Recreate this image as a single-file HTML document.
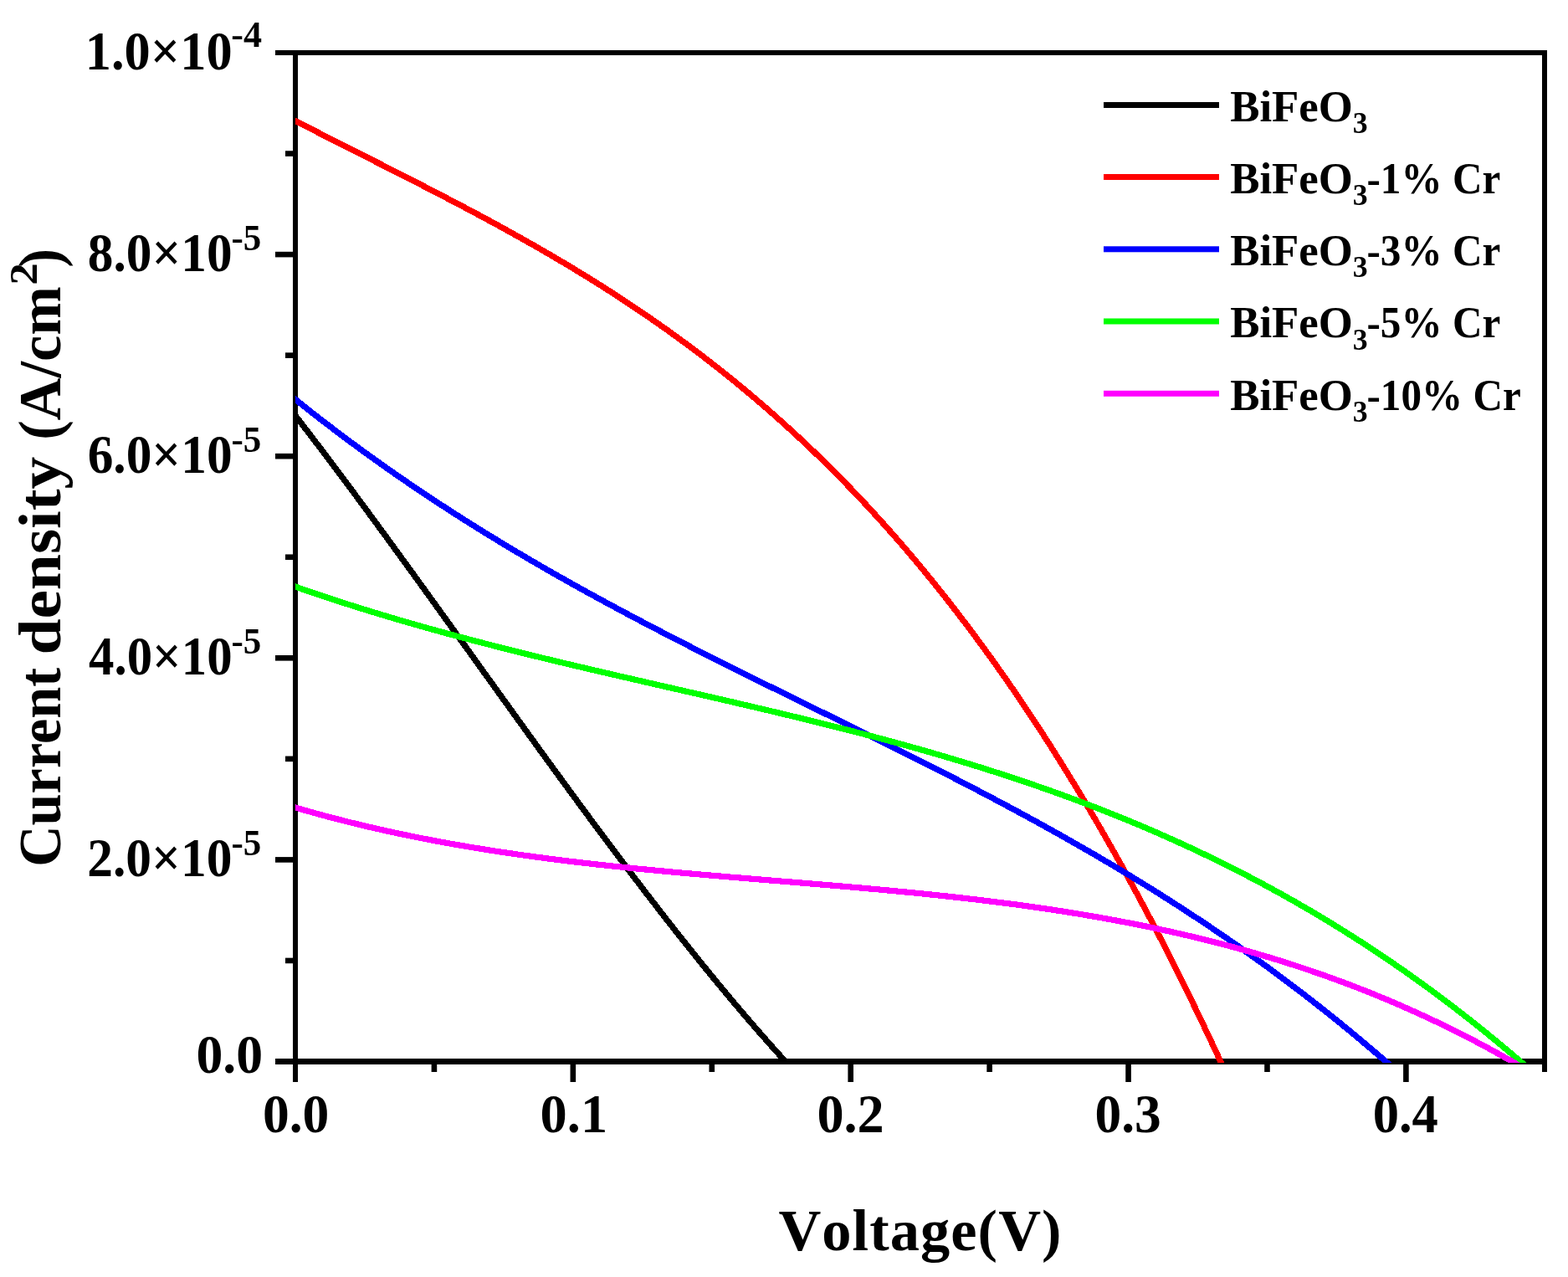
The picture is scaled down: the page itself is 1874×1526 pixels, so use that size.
<!DOCTYPE html>
<html lang="en"><head><meta charset="utf-8"><title>Current density vs Voltage</title>
<style>
html,body{margin:0;padding:0;background:#fff}
body{width:1874px;height:1526px;overflow:hidden}
svg{display:block}
text{font-family:"Liberation Serif","DejaVu Serif",serif;font-weight:bold;fill:#000;white-space:pre}
</style></head><body>
<svg width="1874" height="1526" viewBox="0 0 1874 1526">
<rect width="1874" height="1526" fill="#fff"/>
<g fill="#000"><rect x="350" y="60" width="6" height="1233"/><rect x="1843" y="60" width="6" height="1221"/><rect x="329" y="60" width="1520" height="6"/><rect x="329" y="1265" width="1520" height="7"/><rect x="515.62" y="1271" width="6.6" height="10"/><rect x="681.55" y="1271" width="6.6" height="22"/><rect x="847.48" y="1271" width="6.6" height="10"/><rect x="1013.4" y="1271" width="6.6" height="22"/><rect x="1179.33" y="1271" width="6.6" height="10"/><rect x="1345.25" y="1271" width="6.6" height="22"/><rect x="1511.18" y="1271" width="6.6" height="10"/><rect x="1677.1" y="1271" width="6.6" height="22"/><rect x="341" y="1144.65" width="10" height="6.6"/><rect x="329" y="1024.1" width="22" height="6.6"/><rect x="341" y="903.55" width="10" height="6.6"/><rect x="329" y="783" width="22" height="6.6"/><rect x="341" y="662.45" width="10" height="6.6"/><rect x="329" y="541.9" width="22" height="6.6"/><rect x="341" y="421.35" width="10" height="6.6"/><rect x="329" y="300.8" width="22" height="6.6"/><rect x="341" y="180.25" width="10" height="6.6"/></g>
<clipPath id="c"><rect x="353" y="60" width="1497" height="1210.0"/></clipPath>
<g fill="none" stroke-width="7.2" stroke-linejoin="round" shape-rendering="crispEdges" clip-path="url(#c)">
<path stroke="#000" d="M348,490.09 L353,496.56 L356,500.45 L359,504.34 L362,508.24 L365,512.15 L368,516.07 L371,519.99 L374,523.92 L377,527.86 L380,531.81 L383,535.77 L386,539.73 L389,543.7 L392,547.67 L395,551.65 L398,555.64 L401,559.64 L404,563.64 L407,567.65 L410,571.66 L413,575.68 L416,579.71 L419,583.74 L422,587.78 L425,591.82 L428,595.87 L431,599.93 L434,603.99 L437,608.05 L440,612.12 L443,616.2 L446,620.28 L449,624.37 L452,628.45 L455,632.55 L458,636.65 L461,640.75 L464,644.86 L467,648.97 L470,653.08 L473,657.2 L476,661.32 L479,665.45 L482,669.58 L485,673.71 L488,677.84 L491,681.98 L494,686.12 L497,690.27 L500,694.42 L503,698.57 L506,702.72 L509,706.87 L512,711.03 L515,715.19 L518,719.35 L521,723.51 L524,727.68 L527,731.84 L530,736.01 L533,740.18 L536,744.35 L539,748.53 L542,752.7 L545,756.87 L548,761.05 L551,765.22 L554,769.4 L557,773.58 L560,777.76 L563,781.93 L566,786.11 L569,790.29 L572,794.47 L575,798.64 L578,802.82 L581,807 L584,811.18 L587,815.35 L590,819.53 L593,823.7 L596,827.87 L599,832.05 L602,836.22 L605,840.39 L608,844.56 L611,848.72 L614,852.89 L617,857.05 L620,861.21 L623,865.37 L626,869.53 L629,873.68 L632,877.83 L635,881.98 L638,886.13 L641,890.28 L644,894.42 L647,898.56 L650,902.69 L653,906.82 L656,910.95 L659,915.08 L662,919.2 L665,923.32 L668,927.43 L671,931.54 L674,935.65 L677,939.75 L680,943.85 L683,947.95 L686,952.04 L689,956.12 L692,960.2 L695,964.28 L698,968.35 L701,972.41 L704,976.47 L707,980.53 L710,984.58 L713,988.62 L716,992.66 L719,996.69 L722,1000.72 L725,1004.74 L728,1008.75 L731,1012.76 L734,1016.77 L737,1020.76 L740,1024.75 L743,1028.73 L746,1032.71 L749,1036.68 L752,1040.64 L755,1044.59 L758,1048.54 L761,1052.48 L764,1056.41 L767,1060.34 L770,1064.25 L773,1068.16 L776,1072.06 L779,1075.96 L782,1079.84 L785,1083.72 L788,1087.59 L791,1091.45 L794,1095.3 L797,1099.14 L800,1102.97 L803,1106.8 L806,1110.61 L809,1114.42 L812,1118.21 L815,1122 L818,1125.78 L821,1129.54 L824,1133.3 L827,1137.05 L830,1140.79 L833,1144.52 L836,1148.23 L839,1151.94 L842,1155.64 L845,1159.32 L848,1163 L851,1166.66 L854,1170.31 L857,1173.96 L860,1177.59 L863,1181.21 L866,1184.81 L869,1188.41 L872,1191.99 L875,1195.57 L878,1199.13 L881,1202.68 L884,1206.21 L887,1209.74 L890,1213.25 L893,1216.75 L896,1220.24 L899,1223.71 L902,1227.17 L905,1230.62 L908,1234.06 L911,1237.48 L914,1240.89 L917,1244.28 L920,1247.66 L923,1251.03 L926,1254.39 L929,1257.73 L932,1261.05 L935,1264.37 L938,1267.66 L938.5,1268.21 L946.5,1276.98"/>
<path stroke="#f00" d="M348,141.8 L353,144.38 L356,145.93 L359,147.48 L362,149.02 L365,150.56 L368,152.1 L371,153.64 L374,155.18 L377,156.71 L380,158.24 L383,159.77 L386,161.3 L389,162.83 L392,164.36 L395,165.88 L398,167.41 L401,168.93 L404,170.45 L407,171.98 L410,173.5 L413,175.02 L416,176.54 L419,178.05 L422,179.57 L425,181.09 L428,182.61 L431,184.13 L434,185.64 L437,187.16 L440,188.68 L443,190.2 L446,191.71 L449,193.23 L452,194.75 L455,196.27 L458,197.79 L461,199.31 L464,200.83 L467,202.35 L470,203.87 L473,205.4 L476,206.92 L479,208.45 L482,209.97 L485,211.5 L488,213.03 L491,214.56 L494,216.1 L497,217.63 L500,219.17 L503,220.7 L506,222.24 L509,223.79 L512,225.33 L515,226.88 L518,228.43 L521,229.98 L524,231.53 L527,233.09 L530,234.64 L533,236.2 L536,237.77 L539,239.34 L542,240.91 L545,242.48 L548,244.05 L551,245.63 L554,247.22 L557,248.8 L560,250.39 L563,251.98 L566,253.58 L569,255.18 L572,256.78 L575,258.39 L578,260 L581,261.62 L584,263.24 L587,264.86 L590,266.49 L593,268.12 L596,269.76 L599,271.4 L602,273.05 L605,274.7 L608,276.36 L611,278.02 L614,279.68 L617,281.35 L620,283.03 L623,284.71 L626,286.4 L629,288.09 L632,289.79 L635,291.49 L638,293.2 L641,294.92 L644,296.64 L647,298.36 L650,300.1 L653,301.83 L656,303.58 L659,305.33 L662,307.09 L665,308.85 L668,310.62 L671,312.4 L674,314.18 L677,315.97 L680,317.77 L683,319.57 L686,321.39 L689,323.2 L692,325.03 L695,326.86 L698,328.7 L701,330.55 L704,332.41 L707,334.27 L710,336.14 L713,338.02 L716,339.91 L719,341.8 L722,343.7 L725,345.61 L728,347.53 L731,349.46 L734,351.39 L737,353.34 L740,355.29 L743,357.25 L746,359.22 L749,361.2 L752,363.19 L755,365.19 L758,367.19 L761,369.21 L764,371.23 L767,373.26 L770,375.31 L773,377.36 L776,379.42 L779,381.49 L782,383.57 L785,385.67 L788,387.77 L791,389.88 L794,392 L797,394.13 L800,396.27 L803,398.43 L806,400.59 L809,402.76 L812,404.95 L815,407.14 L818,409.35 L821,411.56 L824,413.79 L827,416.03 L830,418.28 L833,420.54 L836,422.81 L839,425.09 L842,427.39 L845,429.69 L848,432.01 L851,434.34 L854,436.68 L857,439.04 L860,441.4 L863,443.78 L866,446.17 L869,448.57 L872,450.98 L875,453.41 L878,455.85 L881,458.3 L884,460.77 L887,463.24 L890,465.73 L893,468.24 L896,470.75 L899,473.28 L902,475.82 L905,478.38 L908,480.95 L911,483.53 L914,486.12 L917,488.73 L920,491.36 L923,493.99 L926,496.64 L929,499.31 L932,501.99 L935,504.68 L938,507.38 L941,510.11 L944,512.84 L947,515.59 L950,518.36 L953,521.13 L956,523.93 L959,526.74 L962,529.56 L965,532.4 L968,535.25 L971,538.12 L974,541 L977,543.9 L980,546.82 L983,549.75 L986,552.69 L989,555.65 L992,558.63 L995,561.62 L998,564.63 L1001,567.66 L1004,570.7 L1007,573.75 L1010,576.83 L1013,579.92 L1016,583.02 L1019,586.15 L1022,589.28 L1025,592.44 L1028,595.61 L1031,598.8 L1034,602.01 L1037,605.23 L1040,608.47 L1043,611.73 L1046,615 L1049,618.29 L1052,621.6 L1055,624.93 L1058,628.28 L1061,631.64 L1064,635.02 L1067,638.42 L1070,641.83 L1073,645.27 L1076,648.72 L1079,652.19 L1082,655.68 L1085,659.18 L1088,662.71 L1091,666.25 L1094,669.81 L1097,673.4 L1100,677 L1103,680.61 L1106,684.25 L1109,687.91 L1112,691.58 L1115,695.28 L1118,698.99 L1121,702.73 L1124,706.48 L1127,710.26 L1130,714.05 L1133,717.86 L1136,721.69 L1139,725.55 L1142,729.42 L1145,733.31 L1148,737.22 L1151,741.16 L1154,745.11 L1157,749.08 L1160,753.08 L1163,757.09 L1166,761.13 L1169,765.18 L1172,769.26 L1175,773.36 L1178,777.48 L1181,781.62 L1184,785.78 L1187,789.96 L1190,794.17 L1193,798.39 L1196,802.64 L1199,806.91 L1202,811.2 L1205,815.51 L1208,819.85 L1211,824.2 L1214,828.58 L1217,832.98 L1220,837.41 L1223,841.85 L1226,846.32 L1229,850.81 L1232,855.32 L1235,859.86 L1238,864.42 L1241,869 L1244,873.61 L1247,878.23 L1250,882.88 L1253,887.56 L1256,892.26 L1259,896.98 L1262,901.72 L1265,906.49 L1268,911.28 L1271,916.1 L1274,920.94 L1277,925.8 L1280,930.69 L1283,935.6 L1286,940.53 L1289,945.49 L1292,950.48 L1295,955.49 L1298,960.52 L1301,965.58 L1304,970.66 L1307,975.77 L1310,980.9 L1313,986.06 L1316,991.24 L1319,996.45 L1322,1001.68 L1325,1006.94 L1328,1012.22 L1331,1017.53 L1334,1022.87 L1337,1028.23 L1340,1033.61 L1343,1039.03 L1346,1044.46 L1349,1049.93 L1352,1055.42 L1355,1060.94 L1358,1066.48 L1361,1072.05 L1364,1077.64 L1367,1083.27 L1370,1088.91 L1373,1094.59 L1376,1100.29 L1379,1106.02 L1382,1111.78 L1385,1117.56 L1388,1123.37 L1391,1129.21 L1394,1135.07 L1397,1140.97 L1400,1146.89 L1403,1152.84 L1406,1158.81 L1409,1164.81 L1412,1170.85 L1415,1176.9 L1418,1182.99 L1421,1189.11 L1424,1195.25 L1427,1201.42 L1430,1207.62 L1433,1213.85 L1436,1220.11 L1439,1226.39 L1442,1232.71 L1445,1239.05 L1448,1245.43 L1451,1251.83 L1454,1258.26 L1457,1264.72 L1458.5,1267.96 L1466.5,1285.24"/>
<path stroke="#00f" d="M348,473.24 L353,477.25 L356,479.65 L359,482.05 L362,484.44 L365,486.81 L368,489.18 L371,491.54 L374,493.9 L377,496.24 L380,498.57 L383,500.9 L386,503.22 L389,505.52 L392,507.82 L395,510.11 L398,512.4 L401,514.67 L404,516.94 L407,519.2 L410,521.45 L413,523.69 L416,525.92 L419,528.15 L422,530.36 L425,532.57 L428,534.77 L431,536.97 L434,539.15 L437,541.33 L440,543.5 L443,545.66 L446,547.81 L449,549.96 L452,552.1 L455,554.23 L458,556.35 L461,558.47 L464,560.58 L467,562.68 L470,564.77 L473,566.86 L476,568.93 L479,571.01 L482,573.07 L485,575.13 L488,577.18 L491,579.22 L494,581.26 L497,583.29 L500,585.31 L503,587.32 L506,589.33 L509,591.33 L512,593.33 L515,595.32 L518,597.3 L521,599.27 L524,601.24 L527,603.2 L530,605.16 L533,607.1 L536,609.05 L539,610.98 L542,612.91 L545,614.83 L548,616.75 L551,618.66 L554,620.57 L557,622.46 L560,624.36 L563,626.24 L566,628.12 L569,630 L572,631.87 L575,633.73 L578,635.59 L581,637.44 L584,639.28 L587,641.12 L590,642.96 L593,644.78 L596,646.61 L599,648.42 L602,650.24 L605,652.04 L608,653.84 L611,655.64 L614,657.43 L617,659.21 L620,660.99 L623,662.77 L626,664.54 L629,666.3 L632,668.06 L635,669.82 L638,671.57 L641,673.31 L644,675.05 L647,676.79 L650,678.52 L653,680.24 L656,681.97 L659,683.68 L662,685.39 L665,687.1 L668,688.8 L671,690.5 L674,692.2 L677,693.89 L680,695.57 L683,697.25 L686,698.93 L689,700.6 L692,702.27 L695,703.93 L698,705.59 L701,707.25 L704,708.9 L707,710.55 L710,712.2 L713,713.84 L716,715.47 L719,717.11 L722,718.74 L725,720.36 L728,721.98 L731,723.6 L734,725.22 L737,726.83 L740,728.44 L743,730.04 L746,731.64 L749,733.24 L752,734.84 L755,736.43 L758,738.02 L761,739.6 L764,741.18 L767,742.76 L770,744.34 L773,745.91 L776,747.48 L779,749.05 L782,750.61 L785,752.17 L788,753.73 L791,755.29 L794,756.84 L797,758.39 L800,759.94 L803,761.49 L806,763.03 L809,764.57 L812,766.11 L815,767.65 L818,769.18 L821,770.71 L824,772.24 L827,773.77 L830,775.3 L833,776.82 L836,778.34 L839,779.86 L842,781.38 L845,782.89 L848,784.4 L851,785.92 L854,787.42 L857,788.93 L860,790.44 L863,791.94 L866,793.45 L869,794.95 L872,796.45 L875,797.95 L878,799.44 L881,800.94 L884,802.43 L887,803.93 L890,805.42 L893,806.91 L896,808.4 L899,809.89 L902,811.37 L905,812.86 L908,814.34 L911,815.83 L914,817.31 L917,818.79 L920,820.28 L923,821.76 L926,823.24 L929,824.72 L932,826.2 L935,827.67 L938,829.15 L941,830.63 L944,832.11 L947,833.58 L950,835.06 L953,836.53 L956,838.01 L959,839.48 L962,840.96 L965,842.43 L968,843.91 L971,845.38 L974,846.86 L977,848.33 L980,849.81 L983,851.28 L986,852.75 L989,854.23 L992,855.71 L995,857.18 L998,858.66 L1001,860.13 L1004,861.61 L1007,863.09 L1010,864.56 L1013,866.04 L1016,867.52 L1019,869 L1022,870.48 L1025,871.96 L1028,873.44 L1031,874.92 L1034,876.41 L1037,877.89 L1040,879.38 L1043,880.86 L1046,882.35 L1049,883.84 L1052,885.33 L1055,886.82 L1058,888.31 L1061,889.8 L1064,891.3 L1067,892.79 L1070,894.29 L1073,895.79 L1076,897.29 L1079,898.79 L1082,900.29 L1085,901.79 L1088,903.3 L1091,904.81 L1094,906.32 L1097,907.83 L1100,909.34 L1103,910.86 L1106,912.37 L1109,913.89 L1112,915.41 L1115,916.93 L1118,918.46 L1121,919.99 L1124,921.51 L1127,923.05 L1130,924.58 L1133,926.11 L1136,927.65 L1139,929.19 L1142,930.74 L1145,932.28 L1148,933.83 L1151,935.38 L1154,936.93 L1157,938.49 L1160,940.05 L1163,941.61 L1166,943.17 L1169,944.74 L1172,946.31 L1175,947.88 L1178,949.46 L1181,951.03 L1184,952.62 L1187,954.2 L1190,955.79 L1193,957.38 L1196,958.97 L1199,960.57 L1202,962.17 L1205,963.78 L1208,965.38 L1211,966.99 L1214,968.61 L1217,970.23 L1220,971.85 L1223,973.47 L1226,975.1 L1229,976.73 L1232,978.37 L1235,980.01 L1238,981.65 L1241,983.3 L1244,984.95 L1247,986.61 L1250,988.27 L1253,989.93 L1256,991.6 L1259,993.27 L1262,994.95 L1265,996.63 L1268,998.31 L1271,1000 L1274,1001.69 L1277,1003.39 L1280,1005.09 L1283,1006.8 L1286,1008.51 L1289,1010.23 L1292,1011.95 L1295,1013.67 L1298,1015.4 L1301,1017.13 L1304,1018.87 L1307,1020.62 L1310,1022.37 L1313,1024.12 L1316,1025.88 L1319,1027.64 L1322,1029.41 L1325,1031.18 L1328,1032.96 L1331,1034.75 L1334,1036.54 L1337,1038.33 L1340,1040.13 L1343,1041.94 L1346,1043.75 L1349,1045.56 L1352,1047.39 L1355,1049.21 L1358,1051.05 L1361,1052.88 L1364,1054.73 L1367,1056.58 L1370,1058.43 L1373,1060.3 L1376,1062.16 L1379,1064.04 L1382,1065.92 L1385,1067.8 L1388,1069.69 L1391,1071.59 L1394,1073.49 L1397,1075.4 L1400,1077.32 L1403,1079.24 L1406,1081.17 L1409,1083.1 L1412,1085.04 L1415,1086.99 L1418,1088.94 L1421,1090.9 L1424,1092.87 L1427,1094.84 L1430,1096.82 L1433,1098.81 L1436,1100.8 L1439,1102.8 L1442,1104.81 L1445,1106.82 L1448,1108.84 L1451,1110.87 L1454,1112.91 L1457,1114.95 L1460,1117 L1463,1119.05 L1466,1121.12 L1469,1123.19 L1472,1125.26 L1475,1127.35 L1478,1129.44 L1481,1131.54 L1484,1133.65 L1487,1135.76 L1490,1137.88 L1493,1140.01 L1496,1142.15 L1499,1144.29 L1502,1146.45 L1505,1148.61 L1508,1150.77 L1511,1152.95 L1514,1155.13 L1517,1157.32 L1520,1159.52 L1523,1161.73 L1526,1163.95 L1529,1166.17 L1532,1168.4 L1535,1170.64 L1538,1172.89 L1541,1175.15 L1544,1177.41 L1547,1179.68 L1550,1181.96 L1553,1184.25 L1556,1186.55 L1559,1188.86 L1562,1191.17 L1565,1193.5 L1568,1195.83 L1571,1198.17 L1574,1200.52 L1577,1202.88 L1580,1205.25 L1583,1207.62 L1586,1210.01 L1589,1212.4 L1592,1214.81 L1595,1217.22 L1598,1219.64 L1601,1222.07 L1604,1224.51 L1607,1226.96 L1610,1229.42 L1613,1231.89 L1616,1234.36 L1619,1236.85 L1622,1239.34 L1625,1241.85 L1628,1244.36 L1631,1246.89 L1634,1249.42 L1637,1251.97 L1640,1254.52 L1643,1257.08 L1646,1259.65 L1649,1262.24 L1652,1264.83 L1655,1267.43 L1657.4,1269.52 L1665.4,1276.48"/>
<path stroke="#0f0" d="M348,699.33 L353,701.08 L356,702.13 L359,703.18 L362,704.22 L365,705.26 L368,706.29 L371,707.32 L374,708.34 L377,709.36 L380,710.37 L383,711.38 L386,712.39 L389,713.39 L392,714.38 L395,715.37 L398,716.36 L401,717.34 L404,718.32 L407,719.29 L410,720.26 L413,721.22 L416,722.18 L419,723.14 L422,724.09 L425,725.04 L428,725.98 L431,726.92 L434,727.86 L437,728.79 L440,729.71 L443,730.64 L446,731.56 L449,732.47 L452,733.38 L455,734.29 L458,735.19 L461,736.09 L464,736.99 L467,737.88 L470,738.77 L473,739.66 L476,740.54 L479,741.42 L482,742.29 L485,743.16 L488,744.03 L491,744.89 L494,745.75 L497,746.61 L500,747.46 L503,748.31 L506,749.16 L509,750 L512,750.85 L515,751.68 L518,752.52 L521,753.35 L524,754.18 L527,755 L530,755.82 L533,756.64 L536,757.46 L539,758.27 L542,759.08 L545,759.89 L548,760.7 L551,761.5 L554,762.3 L557,763.09 L560,763.89 L563,764.68 L566,765.47 L569,766.25 L572,767.04 L575,767.82 L578,768.59 L581,769.37 L584,770.14 L587,770.92 L590,771.68 L593,772.45 L596,773.21 L599,773.98 L602,774.74 L605,775.49 L608,776.25 L611,777 L614,777.75 L617,778.5 L620,779.25 L623,779.99 L626,780.74 L629,781.48 L632,782.22 L635,782.95 L638,783.69 L641,784.42 L644,785.16 L647,785.89 L650,786.61 L653,787.34 L656,788.07 L659,788.79 L662,789.51 L665,790.23 L668,790.95 L671,791.67 L674,792.39 L677,793.1 L680,793.81 L683,794.53 L686,795.24 L689,795.95 L692,796.65 L695,797.36 L698,798.07 L701,798.77 L704,799.48 L707,800.18 L710,800.88 L713,801.58 L716,802.28 L719,802.98 L722,803.68 L725,804.37 L728,805.07 L731,805.77 L734,806.46 L737,807.15 L740,807.85 L743,808.54 L746,809.23 L749,809.92 L752,810.61 L755,811.3 L758,811.99 L761,812.68 L764,813.37 L767,814.06 L770,814.75 L773,815.43 L776,816.12 L779,816.81 L782,817.49 L785,818.18 L788,818.87 L791,819.55 L794,820.24 L797,820.93 L800,821.61 L803,822.3 L806,822.98 L809,823.67 L812,824.36 L815,825.04 L818,825.73 L821,826.41 L824,827.1 L827,827.79 L830,828.48 L833,829.16 L836,829.85 L839,830.54 L842,831.23 L845,831.92 L848,832.61 L851,833.3 L854,833.99 L857,834.68 L860,835.37 L863,836.07 L866,836.76 L869,837.45 L872,838.15 L875,838.84 L878,839.54 L881,840.24 L884,840.94 L887,841.63 L890,842.33 L893,843.04 L896,843.74 L899,844.44 L902,845.14 L905,845.85 L908,846.56 L911,847.26 L914,847.97 L917,848.68 L920,849.39 L923,850.11 L926,850.82 L929,851.54 L932,852.25 L935,852.97 L938,853.69 L941,854.41 L944,855.14 L947,855.86 L950,856.59 L953,857.31 L956,858.04 L959,858.77 L962,859.51 L965,860.24 L968,860.98 L971,861.72 L974,862.46 L977,863.2 L980,863.94 L983,864.69 L986,865.44 L989,866.19 L992,866.94 L995,867.69 L998,868.45 L1001,869.21 L1004,869.97 L1007,870.73 L1010,871.5 L1013,872.26 L1016,873.03 L1019,873.81 L1022,874.58 L1025,875.36 L1028,876.14 L1031,876.92 L1034,877.7 L1037,878.49 L1040,879.28 L1043,880.07 L1046,880.87 L1049,881.67 L1052,882.47 L1055,883.27 L1058,884.07 L1061,884.88 L1064,885.7 L1067,886.51 L1070,887.33 L1073,888.15 L1076,888.97 L1079,889.8 L1082,890.63 L1085,891.46 L1088,892.3 L1091,893.14 L1094,893.98 L1097,894.82 L1100,895.67 L1103,896.52 L1106,897.38 L1109,898.24 L1112,899.1 L1115,899.97 L1118,900.83 L1121,901.71 L1124,902.58 L1127,903.46 L1130,904.35 L1133,905.23 L1136,906.12 L1139,907.02 L1142,907.92 L1145,908.82 L1148,909.72 L1151,910.63 L1154,911.54 L1157,912.46 L1160,913.38 L1163,914.31 L1166,915.24 L1169,916.17 L1172,917.11 L1175,918.05 L1178,918.99 L1181,919.94 L1184,920.9 L1187,921.85 L1190,922.82 L1193,923.78 L1196,924.75 L1199,925.73 L1202,926.71 L1205,927.69 L1208,928.68 L1211,929.67 L1214,930.67 L1217,931.67 L1220,932.68 L1223,933.69 L1226,934.7 L1229,935.72 L1232,936.75 L1235,937.78 L1238,938.81 L1241,939.85 L1244,940.9 L1247,941.95 L1250,943 L1253,944.06 L1256,945.12 L1259,946.19 L1262,947.27 L1265,948.35 L1268,949.43 L1271,950.52 L1274,951.61 L1277,952.71 L1280,953.82 L1283,954.93 L1286,956.05 L1289,957.17 L1292,958.29 L1295,959.42 L1298,960.56 L1301,961.7 L1304,962.85 L1307,964.01 L1310,965.17 L1313,966.33 L1316,967.5 L1319,968.68 L1322,969.86 L1325,971.05 L1328,972.24 L1331,973.44 L1334,974.65 L1337,975.86 L1340,977.07 L1343,978.3 L1346,979.53 L1349,980.76 L1352,982 L1355,983.25 L1358,984.5 L1361,985.76 L1364,987.03 L1367,988.3 L1370,989.58 L1373,990.86 L1376,992.15 L1379,993.45 L1382,994.75 L1385,996.06 L1388,997.38 L1391,998.7 L1394,1000.03 L1397,1001.36 L1400,1002.7 L1403,1004.05 L1406,1005.41 L1409,1006.77 L1412,1008.14 L1415,1009.51 L1418,1010.9 L1421,1012.29 L1424,1013.68 L1427,1015.08 L1430,1016.49 L1433,1017.91 L1436,1019.33 L1439,1020.76 L1442,1022.2 L1445,1023.65 L1448,1025.1 L1451,1026.56 L1454,1028.02 L1457,1029.5 L1460,1030.98 L1463,1032.46 L1466,1033.96 L1469,1035.46 L1472,1036.97 L1475,1038.49 L1478,1040.01 L1481,1041.55 L1484,1043.08 L1487,1044.63 L1490,1046.19 L1493,1047.75 L1496,1049.32 L1499,1050.9 L1502,1052.48 L1505,1054.07 L1508,1055.67 L1511,1057.28 L1514,1058.9 L1517,1060.52 L1520,1062.16 L1523,1063.79 L1526,1065.44 L1529,1067.1 L1532,1068.76 L1535,1070.43 L1538,1072.11 L1541,1073.8 L1544,1075.5 L1547,1077.2 L1550,1078.92 L1553,1080.64 L1556,1082.37 L1559,1084.1 L1562,1085.85 L1565,1087.6 L1568,1089.37 L1571,1091.14 L1574,1092.92 L1577,1094.71 L1580,1096.5 L1583,1098.31 L1586,1100.12 L1589,1101.95 L1592,1103.78 L1595,1105.62 L1598,1107.47 L1601,1109.32 L1604,1111.19 L1607,1113.06 L1610,1114.95 L1613,1116.84 L1616,1118.74 L1619,1120.66 L1622,1122.58 L1625,1124.5 L1628,1126.44 L1631,1128.39 L1634,1130.35 L1637,1132.31 L1640,1134.29 L1643,1136.27 L1646,1138.26 L1649,1140.27 L1652,1142.28 L1655,1144.3 L1658,1146.33 L1661,1148.37 L1664,1150.42 L1667,1152.48 L1670,1154.55 L1673,1156.63 L1676,1158.71 L1679,1160.81 L1682,1162.92 L1685,1165.04 L1688,1167.16 L1691,1169.3 L1694,1171.45 L1697,1173.6 L1700,1175.77 L1703,1177.94 L1706,1180.13 L1709,1182.33 L1712,1184.53 L1715,1186.75 L1718,1188.97 L1721,1191.21 L1724,1193.46 L1727,1195.71 L1730,1197.98 L1733,1200.26 L1736,1202.54 L1739,1204.84 L1742,1207.15 L1745,1209.47 L1748,1211.8 L1751,1214.13 L1754,1216.48 L1757,1218.84 L1760,1221.21 L1763,1223.6 L1766,1225.99 L1769,1228.39 L1772,1230.8 L1775,1233.23 L1778,1235.66 L1781,1238.11 L1784,1240.56 L1787,1243.03 L1790,1245.51 L1793,1248 L1796,1250.49 L1799,1253.01 L1802,1255.53 L1805,1258.06 L1808,1260.6 L1811,1263.16 L1814,1265.72 L1817,1268.3 L1818,1269.16 L1826,1276.05"/>
<path stroke="#f0f" d="M348,963.54 L353,965 L356,965.88 L359,966.75 L362,967.62 L365,968.48 L368,969.33 L371,970.18 L374,971.01 L377,971.85 L380,972.67 L383,973.49 L386,974.31 L389,975.12 L392,975.92 L395,976.71 L398,977.5 L401,978.28 L404,979.06 L407,979.83 L410,980.6 L413,981.35 L416,982.11 L419,982.85 L422,983.59 L425,984.33 L428,985.06 L431,985.78 L434,986.5 L437,987.21 L440,987.92 L443,988.62 L446,989.31 L449,990 L452,990.69 L455,991.37 L458,992.04 L461,992.71 L464,993.37 L467,994.03 L470,994.68 L473,995.32 L476,995.96 L479,996.6 L482,997.23 L485,997.86 L488,998.48 L491,999.09 L494,999.7 L497,1000.31 L500,1000.91 L503,1001.5 L506,1002.09 L509,1002.68 L512,1003.26 L515,1003.83 L518,1004.4 L521,1004.97 L524,1005.53 L527,1006.09 L530,1006.64 L533,1007.19 L536,1007.73 L539,1008.27 L542,1008.8 L545,1009.33 L548,1009.86 L551,1010.38 L554,1010.9 L557,1011.41 L560,1011.91 L563,1012.42 L566,1012.92 L569,1013.41 L572,1013.9 L575,1014.39 L578,1014.87 L581,1015.35 L584,1015.83 L587,1016.3 L590,1016.76 L593,1017.23 L596,1017.69 L599,1018.14 L602,1018.59 L605,1019.04 L608,1019.48 L611,1019.92 L614,1020.36 L617,1020.79 L620,1021.22 L623,1021.65 L626,1022.07 L629,1022.49 L632,1022.9 L635,1023.32 L638,1023.72 L641,1024.13 L644,1024.53 L647,1024.93 L650,1025.32 L653,1025.72 L656,1026.11 L659,1026.49 L662,1026.87 L665,1027.25 L668,1027.63 L671,1028 L674,1028.37 L677,1028.74 L680,1029.11 L683,1029.47 L686,1029.83 L689,1030.18 L692,1030.54 L695,1030.89 L698,1031.23 L701,1031.58 L704,1031.92 L707,1032.26 L710,1032.6 L713,1032.94 L716,1033.27 L719,1033.6 L722,1033.93 L725,1034.25 L728,1034.57 L731,1034.89 L734,1035.21 L737,1035.53 L740,1035.84 L743,1036.15 L746,1036.46 L749,1036.77 L752,1037.08 L755,1037.38 L758,1037.68 L761,1037.98 L764,1038.28 L767,1038.57 L770,1038.87 L773,1039.16 L776,1039.45 L779,1039.74 L782,1040.02 L785,1040.31 L788,1040.59 L791,1040.87 L794,1041.15 L797,1041.43 L800,1041.71 L803,1041.99 L806,1042.26 L809,1042.53 L812,1042.8 L815,1043.07 L818,1043.34 L821,1043.61 L824,1043.88 L827,1044.14 L830,1044.41 L833,1044.67 L836,1044.93 L839,1045.19 L842,1045.45 L845,1045.71 L848,1045.97 L851,1046.22 L854,1046.48 L857,1046.73 L860,1046.99 L863,1047.24 L866,1047.49 L869,1047.74 L872,1048 L875,1048.25 L878,1048.5 L881,1048.75 L884,1048.99 L887,1049.24 L890,1049.49 L893,1049.74 L896,1049.98 L899,1050.23 L902,1050.48 L905,1050.72 L908,1050.97 L911,1051.21 L914,1051.46 L917,1051.7 L920,1051.95 L923,1052.19 L926,1052.44 L929,1052.68 L932,1052.93 L935,1053.17 L938,1053.42 L941,1053.66 L944,1053.91 L947,1054.15 L950,1054.4 L953,1054.64 L956,1054.89 L959,1055.14 L962,1055.38 L965,1055.63 L968,1055.88 L971,1056.13 L974,1056.38 L977,1056.62 L980,1056.87 L983,1057.12 L986,1057.38 L989,1057.63 L992,1057.88 L995,1058.13 L998,1058.39 L1001,1058.64 L1004,1058.9 L1007,1059.15 L1010,1059.41 L1013,1059.67 L1016,1059.93 L1019,1060.19 L1022,1060.45 L1025,1060.71 L1028,1060.97 L1031,1061.24 L1034,1061.51 L1037,1061.77 L1040,1062.04 L1043,1062.31 L1046,1062.58 L1049,1062.85 L1052,1063.13 L1055,1063.4 L1058,1063.68 L1061,1063.96 L1064,1064.24 L1067,1064.52 L1070,1064.8 L1073,1065.09 L1076,1065.37 L1079,1065.66 L1082,1065.95 L1085,1066.24 L1088,1066.53 L1091,1066.83 L1094,1067.13 L1097,1067.42 L1100,1067.73 L1103,1068.03 L1106,1068.33 L1109,1068.64 L1112,1068.95 L1115,1069.26 L1118,1069.57 L1121,1069.89 L1124,1070.21 L1127,1070.53 L1130,1070.85 L1133,1071.17 L1136,1071.5 L1139,1071.83 L1142,1072.16 L1145,1072.49 L1148,1072.83 L1151,1073.17 L1154,1073.51 L1157,1073.86 L1160,1074.2 L1163,1074.55 L1166,1074.91 L1169,1075.26 L1172,1075.62 L1175,1075.98 L1178,1076.34 L1181,1076.71 L1184,1077.08 L1187,1077.45 L1190,1077.83 L1193,1078.2 L1196,1078.59 L1199,1078.97 L1202,1079.36 L1205,1079.75 L1208,1080.14 L1211,1080.54 L1214,1080.94 L1217,1081.34 L1220,1081.75 L1223,1082.16 L1226,1082.57 L1229,1082.99 L1232,1083.41 L1235,1083.83 L1238,1084.26 L1241,1084.69 L1244,1085.13 L1247,1085.56 L1250,1086.01 L1253,1086.45 L1256,1086.9 L1259,1087.35 L1262,1087.81 L1265,1088.27 L1268,1088.74 L1271,1089.2 L1274,1089.68 L1277,1090.15 L1280,1090.63 L1283,1091.12 L1286,1091.61 L1289,1092.1 L1292,1092.59 L1295,1093.1 L1298,1093.6 L1301,1094.11 L1304,1094.62 L1307,1095.14 L1310,1095.66 L1313,1096.19 L1316,1096.72 L1319,1097.26 L1322,1097.8 L1325,1098.34 L1328,1098.89 L1331,1099.44 L1334,1100 L1337,1100.56 L1340,1101.13 L1343,1101.7 L1346,1102.28 L1349,1102.86 L1352,1103.45 L1355,1104.04 L1358,1104.63 L1361,1105.24 L1364,1105.84 L1367,1106.45 L1370,1107.07 L1373,1107.69 L1376,1108.32 L1379,1108.95 L1382,1109.58 L1385,1110.22 L1388,1110.87 L1391,1111.52 L1394,1112.18 L1397,1112.84 L1400,1113.51 L1403,1114.19 L1406,1114.86 L1409,1115.55 L1412,1116.24 L1415,1116.93 L1418,1117.63 L1421,1118.34 L1424,1119.05 L1427,1119.77 L1430,1120.49 L1433,1121.22 L1436,1121.96 L1439,1122.7 L1442,1123.45 L1445,1124.2 L1448,1124.96 L1451,1125.72 L1454,1126.49 L1457,1127.27 L1460,1128.05 L1463,1128.84 L1466,1129.63 L1469,1130.44 L1472,1131.24 L1475,1132.06 L1478,1132.87 L1481,1133.7 L1484,1134.53 L1487,1135.37 L1490,1136.22 L1493,1137.07 L1496,1137.92 L1499,1138.79 L1502,1139.66 L1505,1140.54 L1508,1141.42 L1511,1142.31 L1514,1143.21 L1517,1144.11 L1520,1145.02 L1523,1145.94 L1526,1146.86 L1529,1147.79 L1532,1148.73 L1535,1149.68 L1538,1150.63 L1541,1151.59 L1544,1152.55 L1547,1153.52 L1550,1154.5 L1553,1155.49 L1556,1156.48 L1559,1157.48 L1562,1158.49 L1565,1159.51 L1568,1160.53 L1571,1161.56 L1574,1162.6 L1577,1163.64 L1580,1164.69 L1583,1165.75 L1586,1166.82 L1589,1167.9 L1592,1168.98 L1595,1170.07 L1598,1171.16 L1601,1172.27 L1604,1173.38 L1607,1174.5 L1610,1175.63 L1613,1176.77 L1616,1177.91 L1619,1179.06 L1622,1180.22 L1625,1181.39 L1628,1182.56 L1631,1183.75 L1634,1184.94 L1637,1186.14 L1640,1187.34 L1643,1188.56 L1646,1189.78 L1649,1191.02 L1652,1192.26 L1655,1193.5 L1658,1194.76 L1661,1196.03 L1664,1197.3 L1667,1198.58 L1670,1199.87 L1673,1201.17 L1676,1202.48 L1679,1203.79 L1682,1205.12 L1685,1206.45 L1688,1207.79 L1691,1209.14 L1694,1210.5 L1697,1211.87 L1700,1213.24 L1703,1214.63 L1706,1216.02 L1709,1217.42 L1712,1218.84 L1715,1220.26 L1718,1221.69 L1721,1223.13 L1724,1224.57 L1727,1226.03 L1730,1227.5 L1733,1228.97 L1736,1230.45 L1739,1231.95 L1742,1233.45 L1745,1234.96 L1748,1236.48 L1751,1238.01 L1754,1239.55 L1757,1241.1 L1760,1242.66 L1763,1244.23 L1766,1245.81 L1769,1247.4 L1772,1248.99 L1775,1250.6 L1778,1252.22 L1781,1253.84 L1784,1255.48 L1787,1257.12 L1790,1258.78 L1793,1260.44 L1796,1262.12 L1799,1263.8 L1802,1265.5 L1805,1267.2 L1808,1268.92 L1809,1269.49 L1817,1274.08"/>
</g>
<g>
<rect x="1319" y="122" width="138" height="7" fill="#000"/>
<rect x="1319" y="208" width="138" height="7" fill="#f00"/>
<rect x="1319" y="294.3" width="138" height="7" fill="#00f"/>
<rect x="1319" y="380.5" width="138" height="7" fill="#0f0"/>
<rect x="1319" y="466.8" width="138" height="7" fill="#f0f"/>
</g>
<text y="144.65"><tspan x="1470.18" font-size="53.5" textLength="146.73" lengthAdjust="spacingAndGlyphs">BiFeO</tspan><tspan x="1616.66" font-size="36.5" textLength="17.89" lengthAdjust="spacingAndGlyphs" dy="14.3">3</tspan></text>
<text y="230.9"><tspan x="1470.18" font-size="53.5" textLength="146.73" lengthAdjust="spacingAndGlyphs">BiFeO</tspan><tspan x="1616.66" font-size="36.5" textLength="17.89" lengthAdjust="spacingAndGlyphs" dy="14.3">3</tspan><tspan x="1633.45" font-size="53.5" textLength="159.91" lengthAdjust="spacingAndGlyphs" dy="-14.3">-1% Cr</tspan></text>
<text y="317.15"><tspan x="1470.18" font-size="53.5" textLength="146.73" lengthAdjust="spacingAndGlyphs">BiFeO</tspan><tspan x="1616.66" font-size="36.5" textLength="17.89" lengthAdjust="spacingAndGlyphs" dy="14.3">3</tspan><tspan x="1633.45" font-size="53.5" textLength="159.91" lengthAdjust="spacingAndGlyphs" dy="-14.3">-3% Cr</tspan></text>
<text y="403.4"><tspan x="1470.18" font-size="53.5" textLength="146.73" lengthAdjust="spacingAndGlyphs">BiFeO</tspan><tspan x="1616.66" font-size="36.5" textLength="17.89" lengthAdjust="spacingAndGlyphs" dy="14.3">3</tspan><tspan x="1633.45" font-size="53.5" textLength="159.91" lengthAdjust="spacingAndGlyphs" dy="-14.3">-5% Cr</tspan></text>
<text y="489.65"><tspan x="1470.18" font-size="53.5" textLength="146.73" lengthAdjust="spacingAndGlyphs">BiFeO</tspan><tspan x="1616.66" font-size="36.5" textLength="17.89" lengthAdjust="spacingAndGlyphs" dy="14.3">3</tspan><tspan x="1633.46" font-size="53.5" textLength="184.41" lengthAdjust="spacingAndGlyphs" dy="-14.3">-10% Cr</tspan></text>
<text y="1282.3"><tspan x="234.41" font-size="64.5" textLength="79.68" lengthAdjust="spacingAndGlyphs">0.0</tspan></text>
<text y="1047.2"><tspan x="104.19" font-size="64.5" textLength="173.41" lengthAdjust="spacingAndGlyphs">2.0×10</tspan><tspan x="276.39" font-size="43.5" textLength="35.85" lengthAdjust="spacingAndGlyphs" dy="-25.2">-5</tspan></text>
<text y="806.1"><tspan x="106.04" font-size="64.5" textLength="171.53" lengthAdjust="spacingAndGlyphs">4.0×10</tspan><tspan x="276.39" font-size="43.5" textLength="35.85" lengthAdjust="spacingAndGlyphs" dy="-25.2">-5</tspan></text>
<text y="565"><tspan x="104.65" font-size="64.5" textLength="172.94" lengthAdjust="spacingAndGlyphs">6.0×10</tspan><tspan x="276.39" font-size="43.5" textLength="35.85" lengthAdjust="spacingAndGlyphs" dy="-25.2">-5</tspan></text>
<text y="323.9"><tspan x="104.81" font-size="64.5" textLength="172.78" lengthAdjust="spacingAndGlyphs">8.0×10</tspan><tspan x="276.39" font-size="43.5" textLength="35.85" lengthAdjust="spacingAndGlyphs" dy="-25.2">-5</tspan></text>
<text y="82.8"><tspan x="101.81" font-size="64.5" textLength="175.82" lengthAdjust="spacingAndGlyphs">1.0×10</tspan><tspan x="276.35" font-size="43.5" textLength="36.75" lengthAdjust="spacingAndGlyphs" dy="-26.4">-4</tspan></text>
<text y="1353.2"><tspan x="313.92" font-size="64.5" textLength="79.47" lengthAdjust="spacingAndGlyphs">0.0</tspan></text>
<text y="1353.2"><tspan x="645.59" font-size="64.5" textLength="80.50" lengthAdjust="spacingAndGlyphs">0.1</tspan></text>
<text y="1353.2"><tspan x="976.39" font-size="64.5" textLength="80.34" lengthAdjust="spacingAndGlyphs">0.2</tspan></text>
<text y="1353.2"><tspan x="1308.52" font-size="64.5" textLength="79.30" lengthAdjust="spacingAndGlyphs">0.3</tspan></text>
<text y="1353.2"><tspan x="1640.65" font-size="64.5" textLength="78.24" lengthAdjust="spacingAndGlyphs">0.4</tspan></text>
<text x="930.4" y="1494.1" font-size="70.4" letter-spacing="1.08" style="font-kerning:none">Voltage(V)</text>
<text transform="translate(72.2,1032.5) rotate(-90)" y="0"><tspan x="-3.24" font-size="72" textLength="254.87" lengthAdjust="spacingAndGlyphs">Current </tspan><tspan x="249.90" font-size="72" textLength="256.15" lengthAdjust="spacingAndGlyphs">density </tspan><tspan x="506.71" font-size="72" textLength="183.51" lengthAdjust="spacingAndGlyphs">(A/cm</tspan><tspan x="691.75" font-size="47" textLength="26.51" lengthAdjust="spacingAndGlyphs" dy="-28.6">2</tspan><tspan x="712.79" font-size="72" textLength="22.63" lengthAdjust="spacingAndGlyphs" dy="28.6">)</tspan></text>
</svg></body></html>
